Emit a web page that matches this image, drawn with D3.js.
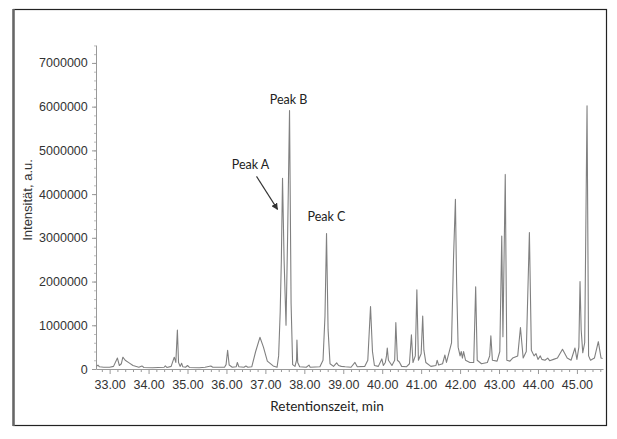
<!DOCTYPE html>
<html>
<head>
<meta charset="utf-8">
<script src="https://cdn.jsdelivr.net/npm/d3@7"></script>
<style>
  body { margin: 0; background: #fff; }
  svg { display: block; }
</style>
</head>
<body>
<div id="chart"></div>
<script>
// retention time (min) and intensity (a.u.)
var rt = [
  32.66, 32.70, 32.74, 32.85, 33.00, 33.10, 33.20, 33.25, 33.30, 33.34,
  33.40, 33.50, 33.60, 33.75, 33.83, 33.88, 34.10, 34.40, 34.43, 34.47,
  34.58, 34.66, 34.70, 34.74, 34.77, 34.81, 34.85, 34.88, 34.95, 35.00,
  35.05, 35.30, 35.45, 35.60, 35.65, 35.95, 35.99, 36.03, 36.07, 36.15,
  36.25, 36.28, 36.32, 36.45, 36.50, 36.55, 36.65, 36.75, 36.86, 36.95,
  37.05, 37.20, 37.30, 37.34, 37.38, 37.41, 37.44, 37.48, 37.53, 37.57,
  37.62, 37.66, 37.70, 37.76, 37.80, 37.81, 37.83, 37.88, 38.05, 38.12,
  38.15, 38.40, 38.48, 38.53, 38.57, 38.61, 38.66, 38.75, 38.83, 38.88,
  38.95, 39.05, 39.20, 39.30, 39.36, 39.55, 39.63, 39.70, 39.75, 39.80,
  39.90, 39.99, 40.03, 40.08, 40.11, 40.13, 40.16, 40.25, 40.32, 40.35,
  40.39, 40.44, 40.50, 40.62, 40.70, 40.75, 40.79, 40.85, 40.89, 40.93,
  41.00, 41.04, 41.07, 41.12, 41.25, 41.38, 41.41, 41.45, 41.55, 41.61,
  41.65, 41.78, 41.83, 41.88, 41.91, 41.95, 42.00, 42.03, 42.06, 42.09,
  42.14, 42.25, 42.35, 42.40, 42.44, 42.55, 42.70, 42.76, 42.79, 42.83,
  42.95, 43.02, 43.07, 43.10, 43.16, 43.20, 43.28, 43.35, 43.48, 43.55,
  43.62, 43.70, 43.78, 43.83, 43.90, 43.95, 44.00, 44.06, 44.10, 44.18,
  44.25, 44.30, 44.40, 44.50, 44.63, 44.75, 44.85, 44.95, 45.00, 45.05,
  45.08, 45.11, 45.15, 45.20, 45.26, 45.30, 45.35, 45.45, 45.55, 45.62,
  45.66
];
var intensity = [
  60000, 90000, 50000, 40000, 40000, 60000, 250000, 80000, 120000, 270000,
  200000, 140000, 80000, 40000, 70000, 35000, 30000, 40000, 70000, 35000,
  60000, 270000, 150000, 890000, 150000, 60000, 130000, 50000, 40000, 80000,
  35000, 30000, 40000, 70000, 40000, 40000, 100000, 430000, 90000, 40000,
  50000, 150000, 50000, 40000, 70000, 40000, 50000, 400000, 725000, 500000,
  180000, 70000, 40000, 300000, 1300000, 2500000, 4360000, 2500000, 1000000, 3000000,
  5910000, 1500000, 100000, 60000, 200000, 660000, 150000, 50000, 40000, 90000,
  40000, 50000, 200000, 1200000, 3100000, 900000, 120000, 60000, 140000, 80000,
  60000, 50000, 40000, 150000, 50000, 60000, 200000, 1430000, 400000, 80000,
  60000, 230000, 80000, 150000, 300000, 480000, 200000, 80000, 200000, 1060000,
  200000, 160000, 60000, 50000, 120000, 780000, 150000, 300000, 1810000, 200000,
  350000, 1210000, 430000, 150000, 60000, 80000, 200000, 90000, 120000, 320000,
  150000, 600000, 2500000, 3880000, 2000000, 500000, 300000, 400000, 250000, 400000,
  200000, 150000, 150000, 1880000, 200000, 120000, 150000, 300000, 760000, 200000,
  180000, 400000, 3040000, 740000, 4450000, 200000, 180000, 250000, 300000, 950000,
  250000, 400000, 3120000, 430000, 300000, 350000, 220000, 300000, 220000, 200000,
  250000, 190000, 220000, 250000, 450000, 250000, 200000, 480000, 220000, 500000,
  2000000, 890000, 370000, 600000, 6020000, 300000, 200000, 250000, 625000, 250000,
  240000
];
var xTicks = [33, 34, 35, 36, 37, 38, 39, 40, 41, 42, 43, 44, 45];
var yTicks = [0, 1000000, 2000000, 3000000, 4000000, 5000000, 6000000, 7000000];
var peakNames = ["Peak A", "Peak B", "Peak C"];
var peakTimes = [37.44, 37.62, 38.57];

var W = 617, H = 439;
var margin = {top: 45, right: 14, bottom: 70, left: 96};

var svg = d3.select("#chart").append("svg")
    .attr("width", W)
    .attr("height", H);

// picture frame
svg.append("rect")
    .attr("x", 13.5).attr("y", 9.5)
    .attr("width", 593).attr("height", 416)
    .attr("fill", "none")
    .attr("stroke", "#222")
    .attr("stroke-width", 1.2);
svg.append("line")
    .attr("x1", 13.5).attr("x2", 13.5)
    .attr("y1", 9).attr("y2", 426)
    .attr("stroke", "#666")
    .attr("stroke-width", 2.5);

var xScale = d3.scaleLinear().domain([32.65, 45.67]).range([margin.left, W - margin.right]),
    yScale = d3.scaleLinear().domain([0, 7410000]).range([369, margin.top]);

var data = rt.map(function(d, i) { return {t: d, v: intensity[i]}; });

// minor ticks
var minorX = d3.range(32.8, 45.61, 0.2).filter(function(d) {
    return Math.abs(d - Math.round(d)) > 0.01;
});
svg.append("g")
    .attr("transform", "translate(0,369)")
    .call(d3.axisBottom(xScale).tickValues(minorX).tickSize(3).tickFormat(""))
    .call(function(g) { g.select(".domain").remove(); })
    .selectAll("line").attr("stroke", "#999");

var minorY = d3.range(0, 7400001, 200000);
svg.append("g")
    .attr("transform", "translate(" + margin.left + ",0)")
    .call(d3.axisLeft(yScale).tickValues(minorY).tickSize(2).tickFormat(""))
    .call(function(g) { g.select(".domain").remove(); })
    .selectAll("line").attr("stroke", "#bbb");

var xAxis = svg.append("g")
    .attr("class", "x axis")
    .attr("transform", "translate(0,369)")
    .call(d3.axisBottom(xScale).tickValues(xTicks).tickSize(5).tickSizeOuter(0)
        .tickFormat(function(d) { return d.toFixed(2); }));

var yAxis = svg.append("g")
    .attr("class", "y axis")
    .attr("transform", "translate(" + margin.left + ",0)")
    .call(d3.axisLeft(yScale).tickValues(yTicks).tickSize(4).tickSizeOuter(0)
        .tickFormat(function(d) { return d; }));

svg.selectAll(".axis .domain").attr("stroke", "#999");
svg.selectAll(".axis line").attr("stroke", "#999");
svg.selectAll(".axis text")
    .attr("fill", "#333")
    .style("font-family", "'Liberation Sans', Arial, sans-serif")
    .style("font-size", "12.5px");
xAxis.selectAll("text").attr("dy", "0.95em");
yAxis.selectAll("text").attr("dx", "-0.1em");

// chromatogram trace
var line = d3.line()
    .x(function(d) { return xScale(d.t); })
    .y(function(d) { return yScale(d.v); });

svg.append("path")
    .datum(data)
    .attr("fill", "none")
    .attr("stroke", "#808080")
    .attr("stroke-width", 1.1)
    .attr("stroke-linejoin", "round")
    .attr("d", line);

// axis titles
svg.append("text")
    .attr("transform", "translate(32,200) rotate(-90)")
    .attr("text-anchor", "middle")
    .attr("fill", "#333")
    .style("font-family", "'Liberation Sans', Arial, sans-serif")
    .style("font-size", "13px")
    .text("Intensität, a.u.");

svg.append("text")
    .attr("x", 327).attr("y", 411)
    .attr("text-anchor", "middle")
    .attr("fill", "#222")
    .style("font-family", "Lato, 'Open Sans', sans-serif")
    .style("font-size", "13.5px")
    .text("Retentionszeit, min");

// peak labels
var peakIdx = peakTimes.map(function(t) { return rt.indexOf(t); });
var labelPos = [{dx: -32, dy: -9}, {dx: -1, dy: -7}, {dx: 0, dy: -12}];
svg.selectAll(".peak-label")
    .data(peakNames)
    .enter().append("text")
    .attr("class", "peak-label")
    .attr("x", function(d, i) { return xScale(peakTimes[i]) + labelPos[i].dx; })
    .attr("y", function(d, i) { return yScale(intensity[peakIdx[i]]) + labelPos[i].dy; })
    .attr("text-anchor", "middle")
    .attr("fill", "#222")
    .style("font-family", "Lato, 'Open Sans', sans-serif")
    .style("font-size", "12.5px")
    .text(function(d) { return d; });

// arrow to peak A
svg.append("defs").append("marker")
    .attr("id", "arrow")
    .attr("viewBox", "0 0 10 10")
    .attr("refX", 9).attr("refY", 5)
    .attr("markerWidth", 6).attr("markerHeight", 6)
    .attr("orient", "auto")
    .append("path")
    .attr("d", "M0,0L10,5L0,10z")
    .attr("fill", "#333");

var ax = xScale(peakTimes[0]), ay = yScale(intensity[peakIdx[0]]);
svg.append("line")
    .attr("x1", ax - 26).attr("y1", ay - 2)
    .attr("x2", ax - 5).attr("y2", ay + 31)
    .attr("stroke", "#333")
    .attr("stroke-width", 1.1)
    .attr("marker-end", "url(#arrow)");
</script>
</body>
</html>
